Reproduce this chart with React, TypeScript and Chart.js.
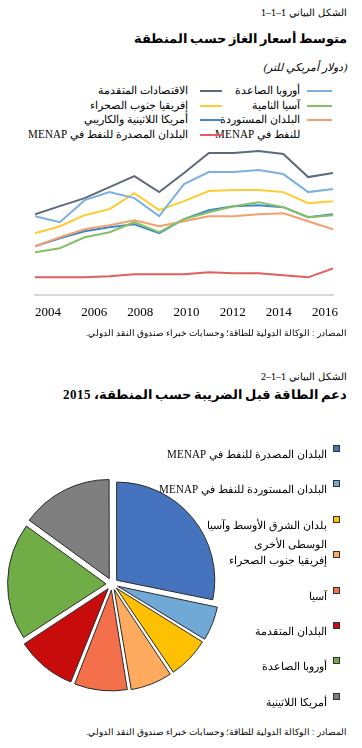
import React, { useEffect, useRef } from "react";
import { Chart, registerables } from "chart.js";

Chart.register(...registerables);

// ---------- Figure 1: average gas prices by region (US$ per litre) ----------
const YEARS = [2004, 2005, 2006, 2007, 2008, 2009, 2010, 2011, 2012, 2013, 2014, 2015, 2016];
const TICK_YEARS = [2004, 2006, 2008, 2010, 2012, 2014, 2016];

const EMERGING_EUROPE = [0.79, 0.73, 0.95, 1.03, 0.97, 0.79, 1.11, 1.23, 1.23, 1.25, 1.21, 1.03, 1.06];
const ADVANCED = [0.81, 0.89, 0.97, 1.08, 1.19, 1.03, 1.22, 1.42, 1.42, 1.44, 1.41, 1.18, 1.22];
const DEVELOPING_ASIA = [0.43, 0.47, 0.58, 0.63, 0.73, 0.63, 0.76, 0.83, 0.89, 0.93, 0.88, 0.78, 0.8];
const SUB_SAHARAN = [0.62, 0.69, 0.8, 0.86, 1.02, 0.85, 0.94, 1.04, 1.05, 1.05, 1.03, 0.92, 0.94];
const MENAP_IMPORTERS = [0.49, 0.58, 0.66, 0.7, 0.75, 0.69, 0.74, 0.79, 0.79, 0.81, 0.82, 0.74, 0.66];
const LATIN_AMERICA = [0.49, 0.57, 0.64, 0.68, 0.71, 0.62, 0.76, 0.85, 0.89, 0.9, 0.88, 0.78, 0.81];
const MENAP_EXPORTERS = [0.18, 0.18, 0.18, 0.19, 0.21, 0.21, 0.21, 0.23, 0.22, 0.22, 0.2, 0.18, 0.27];

const LINE_NAMES = [
  "أوروبا الصاعدة",
  "الاقتصادات المتقدمة",
  "آسيا النامية",
  "إفريقيا جنوب الصحراء",
  "البلدان المستوردة\nللنفط في MENAP",
  "أمريكا اللاتينية والكاريبي",
  "البلدان المصدرة للنفط في MENAP",
];
const LINE_VALUES = [
  EMERGING_EUROPE,
  ADVANCED,
  DEVELOPING_ASIA,
  SUB_SAHARAN,
  MENAP_IMPORTERS,
  LATIN_AMERICA,
  MENAP_EXPORTERS,
];
const LINE_COLORS = ["#7DB0E2", "#5E6A7B", "#85C063", "#FFCB2E", "#F4A06E", "#3B88CE", "#E35E5E"];

// ---------- Figure 2: pre-tax energy subsidies by region, 2015 (share, %) ----------
const PIE_LABELS = [
  "البلدان المصدرة للنفط في MENAP",
  "البلدان المستوردة للنفط في MENAP",
  "بلدان الشرق الأوسط وآسيا\nالوسطى الأخرى",
  "إفريقيا جنوب الصحراء",
  "آسيا",
  "البلدان المتقدمة",
  "أوروبا الصاعدة",
  "أمريكا اللاتينية",
];
const PIE_SHARES = [28.2, 5.6, 6.8, 6.8, 8.6, 9.8, 19.2, 15.0];
const PIE_COLORS = ["#4673BE", "#71A9D6", "#FFC000", "#FFAA5E", "#F4704A", "#C80C0C", "#70AD47", "#7F7F7F"];

const SOURCE_NOTE = "المصادر : الوكالة الدولية للطاقة؛ وحسابات خبراء صندوق النقد الدولي.";

const FONT_CSS = `
@font-face { font-family: "ArLat"; src: local("Liberation Serif"); unicode-range: U+0000-05FF, U+2000-206F; font-weight: 400; }
@font-face { font-family: "ArLat"; src: local("Liberation Serif Bold"), local("LiberationSerif-Bold"); unicode-range: U+0000-05FF, U+2000-206F; font-weight: 700; }
@font-face { font-family: "ArLat"; src: local("DejaVu Sans"); unicode-range: U+0600-06FF, U+FB50-FDFF, U+FE70-FEFF; font-weight: 400; }
@font-face { font-family: "ArLat"; src: local("DejaVu Sans Bold"), local("DejaVuSans-Bold"); unicode-range: U+0600-06FF, U+FB50-FDFF, U+FE70-FEFF; font-weight: 700; }
`;

const FONT = '"ArLat", "Liberation Serif", "DejaVu Sans", serif';

function Txt(props: {
  top: number;
  size: number;
  bold?: boolean;
  italic?: boolean;
  right?: number;
  children: React.ReactNode;
}) {
  const { top, size, bold, italic, right = 15, children } = props;
  return (
    <div
      dir="rtl"
      style={{
        position: "absolute",
        right,
        top: top - size * 0.6,
        fontFamily: FONT,
        fontSize: size,
        lineHeight: `${size * 1.2}px`,
        fontWeight: bold ? 700 : 400,
        fontStyle: italic ? "italic" : "normal",
        whiteSpace: "nowrap",
        color: "#000",
      }}
    >
      {children}
    </div>
  );
}

// legend label: each "\n"-separated part is one line, right-aligned at a fixed right edge
function Label(props: { text: string; size: number; lh: number; right: number; top: number }) {
  return (
    <>
      {props.text.split("\n").map((ln, k) => (
        <div
          key={k}
          dir="rtl"
          style={{
            position: "absolute",
            right: props.right,
            top: props.top + k * props.lh,
            fontFamily: FONT,
            fontSize: props.size,
            lineHeight: `${props.lh}px`,
            whiteSpace: "nowrap",
            color: "#000",
          }}
        >
          {ln}
        </div>
      ))}
    </>
  );
}

function LineChart() {
  const ref = useRef<HTMLCanvasElement>(null);
  useEffect(() => {
    const chart = new Chart(ref.current as HTMLCanvasElement, {
      type: "line",
      data: {
        labels: YEARS,
        datasets: LINE_VALUES.map((vals, i) => ({
          label: LINE_NAMES[i],
          data: vals,
          borderColor: LINE_COLORS[i],
          backgroundColor: LINE_COLORS[i],
          borderWidth: 2,
          pointRadius: 0,
          tension: 0,
          fill: false,
          xAxisID: "x",
          yAxisID: "y",
        })),
      },
      options: {
        animation: false,
        responsive: false,
        maintainAspectRatio: false,
        layout: { padding: { top: 5, left: 35, right: 29, bottom: 2 } },
        plugins: { legend: { display: false }, tooltip: { enabled: false } },
        scales: {
          x: { type: "linear", min: 2004, max: 2016, display: false },
          x2: {
            type: "linear",
            position: "bottom",
            min: 2003.437,
            max: 2016.347,
            grid: { display: false, drawTicks: false },
            border: { display: true, color: "#D9D9D9", width: 2 },
            ticks: {
              padding: 9,
              color: "#000",
              font: { family: "Liberation Serif", size: 13 },
              autoSkip: false,
              maxRotation: 0,
              callback: (v: any) => String(v),
            },
            afterBuildTicks: (axis: any) => {
              axis.ticks = TICK_YEARS.map((v) => ({ value: v }));
            },
          },
          y: { min: 0, max: 1.45, display: false },
        },
      } as any,
    });
    return () => chart.destroy();
  }, []);
  return (
    <canvas
      ref={ref}
      width={362}
      height={186}
      style={{ position: "absolute", left: 0, top: 145, width: 362, height: 186 }}
    />
  );
}

function PieChart() {
  const ref = useRef<HTMLCanvasElement>(null);
  useEffect(() => {
    const chart = new Chart(ref.current as HTMLCanvasElement, {
      type: "pie",
      data: {
        labels: PIE_LABELS,
        datasets: [
          {
            data: PIE_SHARES,
            backgroundColor: PIE_COLORS,
            borderColor: "#2A2A2A",
            borderWidth: 1,
            offset: 24,
          },
        ],
      },
      options: {
        animation: false,
        responsive: false,
        maintainAspectRatio: false,
        radius: 98,
        layout: { padding: 0 },
        plugins: { legend: { display: false }, tooltip: { enabled: false } },
      } as any,
    });
    return () => chart.destroy();
  }, []);
  return (
    <canvas
      ref={ref}
      width={224}
      height={220}
      style={{ position: "absolute", left: 0, top: 474, width: 224, height: 220 }}
    />
  );
}

function LineLegend() {
  const ROW = 14.5;
  const TOP = 84;
  const col = (idxs: number[], swatchRight: number, swatchW: number, textRight: number) => {
    let row = 0;
    return idxs.map((i) => {
      const r = row;
      row += LINE_NAMES[i].split("\n").length;
      return (
        <React.Fragment key={i}>
          <div
            style={{
              position: "absolute",
              right: swatchRight,
              top: TOP + r * ROW + 6,
              width: swatchW,
              height: 2,
              background: LINE_COLORS[i],
            }}
          />
          <Label text={LINE_NAMES[i]} size={10.5} lh={ROW} right={textRight} top={TOP + r * ROW} />
        </React.Fragment>
      );
    });
  };
  return (
    <>
      {col([0, 2, 4], 30, 25, 62)}
      {col([1, 3, 5, 6], 140, 22, 174)}
    </>
  );
}

function PieLegend() {
  const TOP = 444;
  const STEP = 35.4;
  return (
    <>
      {PIE_LABELS.map((lab, i) => (
        <React.Fragment key={i}>
          <div
            style={{
              position: "absolute",
              right: 22,
              top: TOP + i * STEP + 1,
              width: 5,
              height: 5,
              background: PIE_COLORS[i],
              border: "1px solid #333",
            }}
          />
          <Label text={lab} size={11} lh={19} right={35} top={TOP + i * STEP + 1} />
        </React.Fragment>
      ))}
    </>
  );
}

export default function App() {
  return (
    <div
      style={{
        position: "absolute",
        left: 0,
        top: 0,
        width: 362,
        height: 748,
        background: "#fff",
        overflow: "hidden",
      }}
    >
      <style>{FONT_CSS}</style>
      <Txt top={13} size={10}>الشكل البياني 1–1–1</Txt>
      <Txt top={40} size={12.8} bold>
        متوسط أسعار الغاز حسب المنطقة
      </Txt>
      <Txt top={68} size={11} italic>
        (دولار أمريكي للتر)
      </Txt>
      <LineLegend />
      <LineChart />
      <Txt top={333} size={9}>{SOURCE_NOTE}</Txt>
      <Txt top={377} size={10}>الشكل البياني 1–1–2</Txt>
      <Txt top={395} size={13.3} bold>
        دعم الطاقة قبل الضريبة حسب المنطقة، 2015
      </Txt>
      <PieChart />
      <PieLegend />
      <Txt top={732} size={9}>{SOURCE_NOTE}</Txt>
    </div>
  );
}
